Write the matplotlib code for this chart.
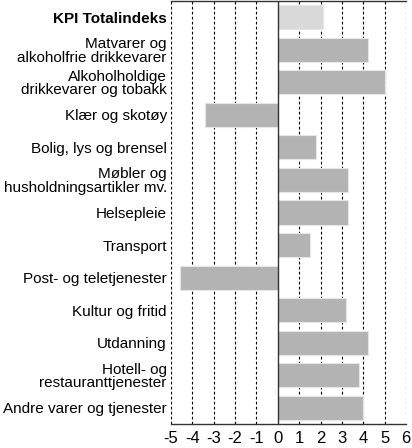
import matplotlib
matplotlib.use("Agg")
import matplotlib.pyplot as plt

categories = [
    "KPI Totalindeks",
    "Matvarer og\nalkoholfrie drikkevarer",
    "Alkoholholdige\ndrikkevarer og tobakk",
    "Klær og skotøy",
    "Bolig, lys og brensel",
    "Møbler og\nhusholdningsartikler mv.",
    "Helsepleie",
    "Transport",
    "Post- og teletjenester",
    "Kultur og fritid",
    "Utdanning",
    "Hotell- og\nrestauranttjenester",
    "Andre varer og tjenester",
]
values = [2.1, 4.2, 5.0, -3.4, 1.8, 3.3, 3.3, 1.5, -4.6, 3.2, 4.2, 3.8, 4.0]
xticks = [-5, -4, -3, -2, -1, 0, 1, 2, 3, 4, 5, 6]

plt.rcParams['font.family'] = ['Liberation Sans', 'DejaVu Sans']

fig = plt.figure(figsize=(4.12, 4.48), dpi=100)
ax = fig.add_axes([171/412, 1 - 424/448, (406-171)/412, (424-1)/448])

n = len(categories)
ypos = list(range(n))
colors = ['#d9d9d9'] + ['#b3b3b3'] * (n - 1)
ax.barh(ypos, values, height=0.74, color=colors, edgecolor='#e6e6e6', linewidth=0.8, zorder=3)

ax.set_xlim(-5, 6)
ax.set_ylim(n - 0.5, -0.5)
ax.set_xticks(xticks)
ax.set_xticklabels([str(t) for t in xticks], fontsize=12)
ax.set_yticks(ypos)
ax.set_yticklabels(categories, fontsize=11, linespacing=0.95)
ax.get_yticklabels()[0].set_fontweight('bold')
ax.tick_params(length=0)
ax.tick_params(axis='x', pad=5)
ax.tick_params(axis='y', pad=3)

for t in xticks:
    if t == 0:
        ax.axvline(0, color='#333333', linewidth=1.0, zorder=4)
    else:
        ax.axvline(t, color='black', linewidth=0.8, linestyle=(0, (2.5, 2)), zorder=1)

for s in ['left', 'right']:
    ax.spines[s].set_visible(False)
for s in ['top', 'bottom']:
    ax.spines[s].set_color('#333333')
    ax.spines[s].set_linewidth(1.0)

fig.savefig('out.png', dpi=100)
